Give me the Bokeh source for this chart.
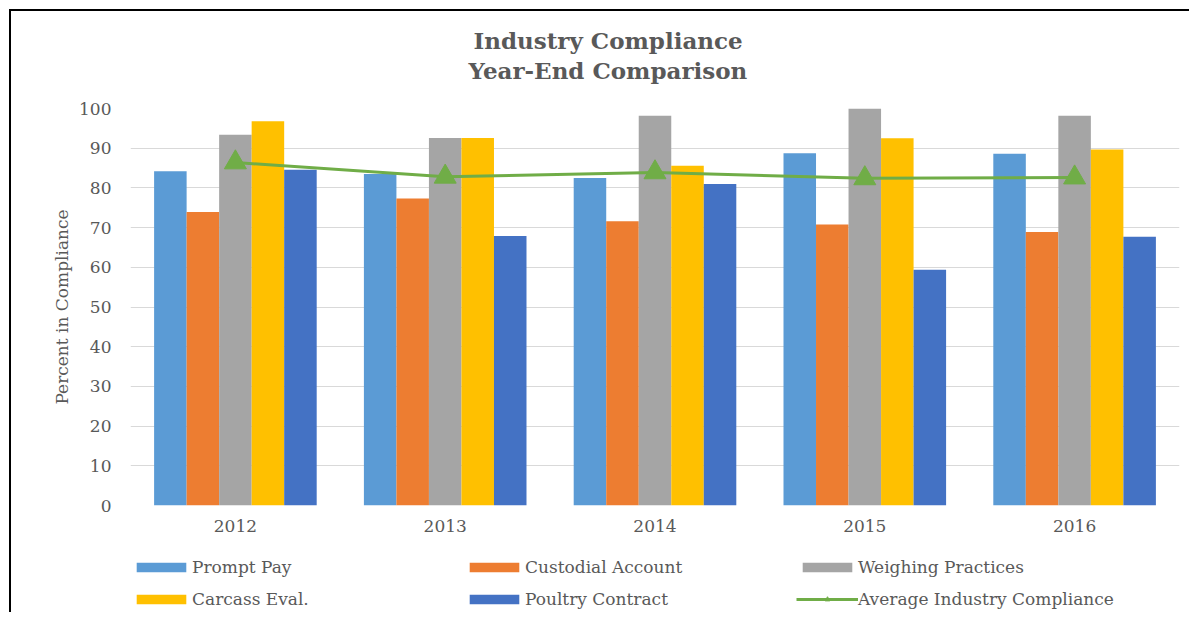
from bokeh.plotting import figure
from bokeh.layouts import column
from bokeh.models import (ColumnDataSource, FactorRange, Range1d, FixedTicker,
                          Legend, LegendItem, Title)
from bokeh.transform import dodge
from bokeh.embed import file_html
from bokeh.resources import INLINE

years = ["2012", "2013", "2014", "2015", "2016"]
prompt_pay = [84.2, 83.5, 82.5, 88.7, 88.6]
custodial_account = [73.9, 77.3, 71.6, 70.8, 68.9]
weighing_practices = [93.4, 92.6, 98.2, 100.0, 98.2]
carcass_eval = [96.8, 92.6, 85.6, 92.5, 89.7]
poultry_contract = [84.6, 67.9, 81.0, 59.4, 67.7]
average_compliance = [86.4, 82.8, 83.9, 82.4, 82.6]
y_ticks = [0, 10, 20, 30, 40, 50, 60, 70, 80, 90, 100]

src = ColumnDataSource(dict(year=years, prompt=prompt_pay, custodial=custodial_account,
                            weighing=weighing_practices, carcass=carcass_eval,
                            poultry=poultry_contract, avg=average_compliance))

TXT = "#595959"
FONT = "DejaVu Serif"

p = figure(x_range=FactorRange(*years), y_range=Range1d(0, 100),
           width=1180, height=534, output_backend="svg", toolbar_location=None,
           title=None, min_border_left=119, min_border_right=12,
           min_border_top=97, min_border_bottom=40,
           styles={"margin-left": "9px", "margin-top": "9px",
                   "border-left": "2px solid black", "border-top": "2px solid black"})

p.outline_line_color = None
p.xgrid.grid_line_color = None
p.ygrid.grid_line_color = "#D9D9D9"
p.ygrid.grid_line_width = 1
p.yaxis.ticker = FixedTicker(ticks=y_ticks)
for ax in (p.xaxis, p.yaxis):
    ax.axis_line_color = None
    ax.major_tick_line_color = None
    ax.minor_tick_line_color = None
    ax.major_tick_out = 0
    ax.major_tick_in = 0
    ax.major_label_text_font = FONT
    ax.major_label_text_font_size = "17px"
    ax.major_label_text_color = TXT
p.yaxis.major_label_standoff = 19
p.xaxis.major_label_standoff = 14
p.yaxis.axis_label = "Percent in Compliance"
p.yaxis.axis_label_text_font = FONT
p.yaxis.axis_label_text_font_size = "17px"
p.yaxis.axis_label_text_font_style = "normal"
p.yaxis.axis_label_text_color = TXT
p.yaxis.axis_label_standoff = 4

w = 0.155
series = [("prompt", "#5B9BD5", "Prompt Pay"),
          ("custodial", "#ED7D31", "Custodial Account"),
          ("weighing", "#A5A5A5", "Weighing Practices"),
          ("carcass", "#FFC000", "Carcass Eval."),
          ("poultry", "#4472C4", "Poultry Contract")]
green = "#70AD47"
for i, (col, color, label) in enumerate(series):
    p.vbar(x=dodge("year", (i - 2) * w, range=p.x_range), top=col, width=w,
           source=src, fill_color=color, line_color=None)
p.line(x="year", y="avg", source=src, line_color=green, line_width=3)
p.scatter(x="year", y="avg", source=src, marker="triangle", size=22,
          fill_color=green, line_color=green)

# titles (spacer keeps the two lines at the reference height)
spacer = Title(text=" ", text_font=FONT, text_font_size="10px", standoff=11)
t2 = Title(text="Year-End Comparison", align="left", offset=338,
           text_font=FONT, text_font_size="23px", text_font_style="bold",
           text_color=TXT, standoff=2)
t1 = Title(text="Industry Compliance", align="left", offset=343,
           text_font=FONT, text_font_size="23px", text_font_style="bold",
           text_color=TXT, standoff=0)
p.add_layout(spacer, "above")
p.add_layout(t2, "above")
p.add_layout(t1, "above")

# legend strip below the chart (its renderers lie outside its visible range)
lg = figure(width=1180, height=69, output_backend="svg", toolbar_location=None,
            x_axis_type=None, y_axis_type=None, x_range=FactorRange(*years),
            y_range=Range1d(1000, 1001), min_border=0, title=None,
            styles={"margin-left": "9px", "border-left": "2px solid black"})
lg.outline_line_color = None
lg.grid.visible = False
items = []
for col, color, label in series:
    r = lg.vbar(x="year", top=col, width=0.1, source=src, fill_color=color,
                line_color=None)
    items.append(LegendItem(label=label, renderers=[r]))
lr = lg.line(x="year", y="avg", source=src, line_color=green, line_width=3)
sr = lg.scatter(x="year", y="avg", source=src, marker="triangle", size=11,
                fill_color=green, line_color=green)
items.append(LegendItem(label="Average Industry Compliance", renderers=[lr, sr]))

legend = Legend(items=items, orientation="horizontal", ncols=3, location=(0, 2),
                glyph_width=62, glyph_height=12, label_standoff=0,
                label_width=261, label_height=22, spacing=10,
                padding=0, margin=0, border_line_color=None,
                background_fill_alpha=0, label_text_font=FONT,
                label_text_font_size="17px", label_text_color=TXT)
lg.add_layout(legend, "center")

layout = column(p, lg, spacing=0)
open("out.html", "w").write(file_html(layout, INLINE))
